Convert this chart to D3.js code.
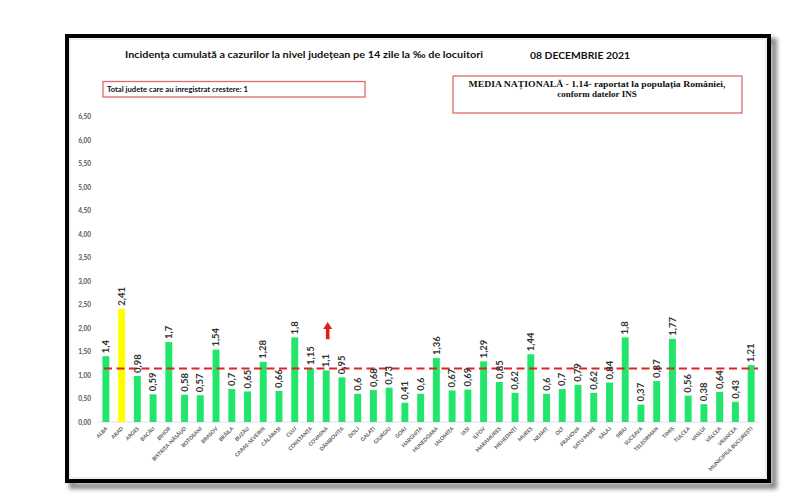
<!DOCTYPE html>
<html><head><meta charset="utf-8">
<script src="https://cdn.jsdelivr.net/npm/d3@7"></script>
<style>html,body{margin:0;padding:0;background:#fff;}svg{display:block;}</style>
</head><body>
<svg id="c" width="800" height="499"></svg>
<script>
const counties = ["ALBA","ARAD","ARGEȘ","BACĂU","BIHOR","BISTRIȚA-NĂSĂUD","BOTOȘANI","BRAȘOV","BRĂILA","BUZĂU","CARAȘ-SEVERIN","CĂLĂRAȘI","CLUJ","CONSTANȚA","COVASNA","DÂMBOVIȚA","DOLJ","GALAȚI","GIURGIU","GORJ","HARGHITA","HUNEDOARA","IALOMIȚA","IAȘI","ILFOV","MARAMUREȘ","MEHEDINȚI","MUREȘ","NEAMȚ","OLT","PRAHOVA","SATU MARE","SĂLAJ","SIBIU","SUCEAVA","TELEORMAN","TIMIȘ","TULCEA","VASLUI","VÂLCEA","VRANCEA","MUNICIPIUL BUCUREȘTI"];
const values = [1.4,2.41,0.98,0.59,1.7,0.58,0.57,1.54,0.7,0.65,1.28,0.66,1.8,1.15,1.1,0.95,0.6,0.68,0.73,0.41,0.6,1.36,0.67,0.69,1.29,0.85,0.62,1.44,0.6,0.7,0.79,0.62,0.84,1.8,0.37,0.87,1.77,0.56,0.38,0.64,0.43,1.21];
const labels = ["1,4","2,41","0,98","0,59","1,7","0,58","0,57","1,54","0,7","0,65","1,28","0,66","1,8","1,15","1,1","0,95","0,6","0,68","0,73","0,41","0,6","1,36","0,67","0,69","1,29","0,85","0,62","1,44","0,6","0,7","0,79","0,62","0,84","1,8","0,37","0,87","1,77","0,56","0,38","0,64","0,43","1,21"];
const highlighted = ["ARAD"];
const yTicks = [0,0.5,1,1.5,2,2.5,3,3.5,4,4.5,5,5.5,6,6.5];
const nationalMean = 1.14;
const arrowCounty = "COVASNA";
const arrowRange = [1.76, 2.13];
const titleText = "Incidența cumulată a cazurilor la nivel județean pe 14 zile la ‰ de locuitori";
const dateText = "08 DECEMBRIE 2021";
const box1Text = "Total judete care au inregistrat crestere: 1";
const box2Lines = ["MEDIA NAȚIONALĂ - 1.14-  raportat la populația României,", "conform datelor INS"];

const svg = d3.select("#c");
const defs = svg.append("defs");
const f = defs.append("filter").attr("id","sh").attr("x","-5%").attr("y","-5%").attr("width","110%").attr("height","110%");
f.append("feGaussianBlur").attr("stdDeviation",2);

// frame with shadow
svg.append("rect").attr("x",72).attr("y",41).attr("width",702).attr("height",445)
  .attr("fill","none").attr("stroke","#888").attr("stroke-width",6).attr("filter","url(#sh)");
svg.append("rect").attr("x",67).attr("y",36).attr("width",702).attr("height",445)
  .attr("fill","#fff").attr("stroke","#000").attr("stroke-width",4);
svg.append("rect").attr("x",70).attr("y",39).attr("width",696).attr("height",439)
  .attr("fill","none").attr("stroke","#ddd").attr("stroke-width",1);

const x = d3.scaleBand().domain(counties).range([98,759]).paddingInner(0.56).paddingOuter(0.28);
const y = d3.scaleLinear().domain([0,6.5]).range([422,116.5]);

// y axis
const yAxis = d3.axisLeft(y).tickValues(yTicks).tickSize(0).tickPadding(0)
  .tickFormat(d => d3.format(".2f")(d).replace(".", ","));
const gy = svg.append("g").attr("transform","translate(91,0)").call(yAxis);
gy.select(".domain").remove();
gy.selectAll("text").attr("font-family","Lato, 'Open Sans', sans-serif").attr("font-size",6.5).attr("font-weight","bold").attr("fill","#555");

// baseline
svg.append("line").attr("x1",98).attr("x2",759).attr("y1",y(0)).attr("y2",y(0)).attr("stroke","#e0e0e0").attr("stroke-width",1);

// bars
svg.append("g").selectAll("rect").data(counties).join("rect")
  .attr("x", d => x(d)).attr("width", x.bandwidth())
  .attr("y", (d,i) => y(values[i])).attr("height", (d,i) => y(0)-y(values[i]))
  .attr("fill", d => highlighted.includes(d) ? "#ffff00" : "#22e66c");

// mean line
svg.append("line").attr("x1",104).attr("x2",758).attr("y1",y(nationalMean)).attr("y2",y(nationalMean))
  .attr("stroke","#e32222").attr("stroke-width",2).attr("stroke-dasharray","8,4.5");

// value labels
svg.append("g").selectAll("text").data(counties).join("text")
  .attr("transform", (d,i) => `translate(${x(d)+x.bandwidth()/2+3.2},${y(values[i])-3}) rotate(-90)`)
  .attr("text-anchor","start")
  .attr("font-family","Lato, 'Open Sans', sans-serif").attr("font-size",9.5).attr("font-weight","bold").attr("fill","#333")
  .text((d,i) => labels[i]);

// x labels
const gx = svg.append("g");
gx.selectAll("text").data(counties).join("text")
  .attr("transform", d => `translate(${x(d)+x.bandwidth()/2+2},${429}) rotate(-45)`)
  .attr("text-anchor","end")
  .attr("font-family","Lato, 'Open Sans', sans-serif").attr("font-size",5.2).attr("font-weight","bold").attr("fill","#555")
  .text(d => d);

// arrow
const ax = x(arrowCounty) + x.bandwidth()/2 + 1.5;
const ay1 = y(arrowRange[0]), ay2 = y(arrowRange[1]);
svg.append("path")
  .attr("d", `M${ax-1.8},${ay1} L${ax-1.8},${ay2+7} L${ax-4.5},${ay2+7} L${ax},${ay2} L${ax+4.5},${ay2+7} L${ax+1.8},${ay2+7} L${ax+1.8},${ay1} Z`)
  .attr("fill","#e31c1c");

// title & date
svg.append("text").attr("x",125).attr("y",58).attr("textLength",358).attr("lengthAdjust","spacingAndGlyphs")
  .attr("font-family","Lato, 'Open Sans', sans-serif").attr("font-size",10).attr("font-weight","bold").attr("fill","#111")
  .text(titleText);
svg.append("text").attr("x",530).attr("y",59).attr("textLength",100).attr("lengthAdjust","spacingAndGlyphs")
  .attr("font-family","Lato, 'Open Sans', sans-serif").attr("font-size",10).attr("font-weight","bold").attr("fill","#111")
  .text(dateText);

// box 1
svg.append("rect").attr("x",103).attr("y",81.5).attr("width",262).attr("height",15.5)
  .attr("fill","#fff").attr("stroke","#e06a6a").attr("stroke-width",1.3);
svg.append("text").attr("x",107).attr("y",91.5).attr("textLength",141).attr("lengthAdjust","spacingAndGlyphs")
  .attr("font-family","Lato, 'Open Sans', sans-serif").attr("font-size",7).attr("font-weight","bold").attr("fill","#111")
  .text(box1Text);

// box 2
svg.append("rect").attr("x",453).attr("y",76).attr("width",289).attr("height",37)
  .attr("fill","#fff").attr("stroke","#e06a6a").attr("stroke-width",1.3);
svg.append("text").attr("x",597).attr("y",87).attr("text-anchor","middle").attr("textLength",257).attr("lengthAdjust","spacingAndGlyphs")
  .attr("font-family","'Liberation Serif', serif").attr("font-size",9).attr("font-weight","bold").attr("fill","#111")
  .text(box2Lines[0]);
svg.append("text").attr("x",597).attr("y",96.5).attr("text-anchor","middle")
  .attr("font-family","'Liberation Serif', serif").attr("font-size",9).attr("font-weight","bold").attr("fill","#111")
  .text(box2Lines[1]);
</script>
</body></html>
